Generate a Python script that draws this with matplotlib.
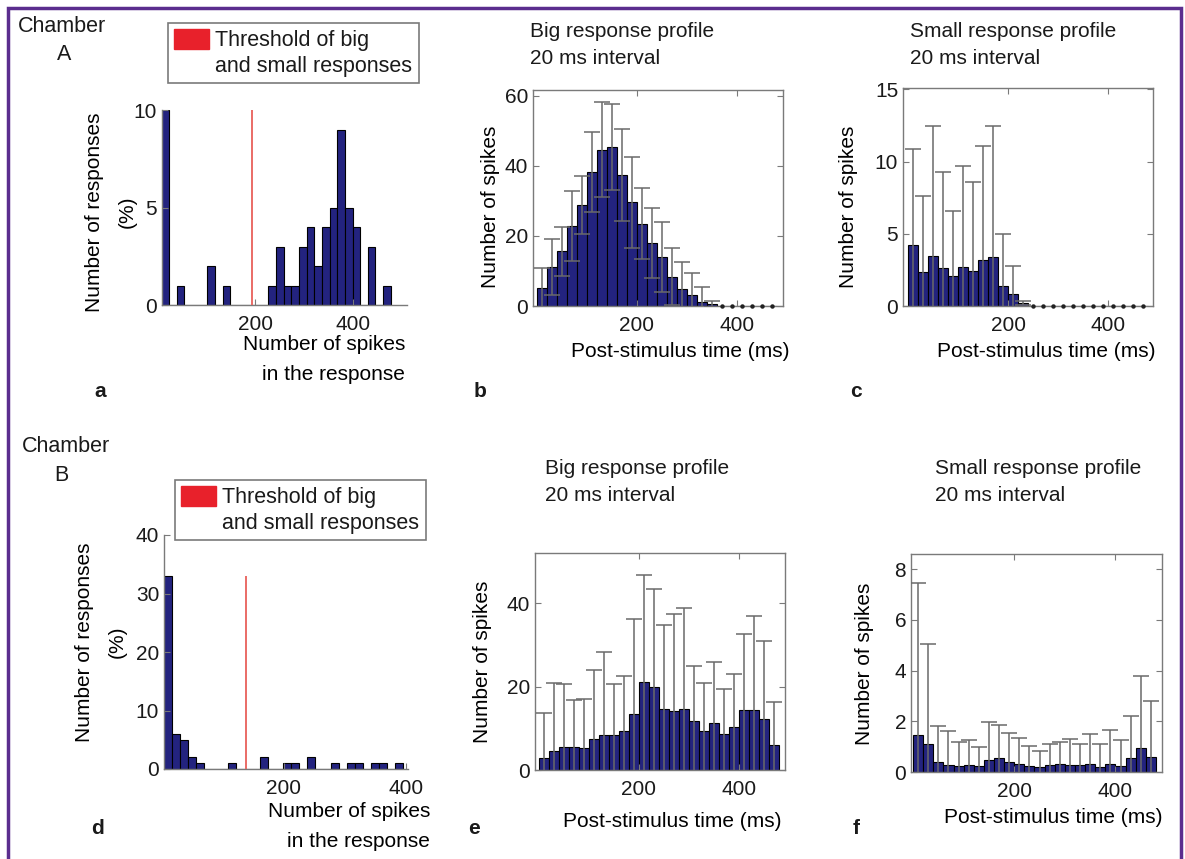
import numpy as np
import matplotlib.pyplot as plt
from matplotlib.patches import Patch, Rectangle

plt.rcParams['font.family'] = ['Liberation Sans', 'DejaVu Sans']
plt.rcParams['font.size'] = 15
plt.rcParams['text.color'] = '#1a1a1a'

W, H = 1185, 859

# ---- data ----
# Chamber A: distribution of spike counts per response (%)
a_bins = [16.6, 32.2, 47.8, 63.4, 79.0, 94.6, 110.2, 125.8, 141.4, 157.0,
          172.6, 188.2, 203.8, 219.4, 235.0, 250.6, 266.2, 281.8, 297.4, 313.0,
          328.6, 344.2, 359.8, 375.4, 391.0, 406.6, 422.2, 437.8, 453.4, 469.0]
a_counts = [10, 0, 1, 0, 0, 0, 2, 0, 1, 0,
            0, 0, 0, 0, 1, 3, 1, 1, 3, 4,
            2, 4, 5, 9, 5, 4, 0, 3, 0, 1]
a_threshold = 194

# Chamber B
d_bins = [10.3, 23.3, 36.4, 49.4, 62.5, 75.5, 88.5, 101.6, 114.6, 127.7,
          140.7, 153.7, 166.8, 179.8, 192.9, 205.9, 218.9, 232.0, 245.0, 258.1,
          271.1, 284.1, 297.2, 310.2, 323.3, 336.3, 349.3, 362.4, 375.4, 388.5]
d_counts = [33, 6, 5, 2, 1, 0, 0, 0, 1, 0,
            0, 0, 2, 0, 0, 1, 1, 0, 2, 0,
            0, 1, 0, 1, 1, 0, 1, 1, 0, 1]
d_threshold = 137

# post-stimulus time bins (20 ms)
time_ms = [10, 30, 50, 70, 90, 110, 130, 150, 170, 190, 210, 230,
           250, 270, 290, 310, 330, 350, 370, 390, 410, 430, 450, 470]

b_mean = [5.0, 11.0, 15.7, 22.9, 28.9, 38.2, 44.6, 45.3, 37.4, 29.6, 23.5, 17.9,
          14.1, 8.4, 4.9, 3.0, 1.2, 0.6, 0, 0, 0, 0, 0, 0]
b_sd = [5.8, 8.0, 7.0, 10.0, 8.3, 11.4, 13.6, 12.3, 13.2, 13.1, 10.2, 10.0,
        10.0, 8.1, 7.6, 6.5, 4.2, 0.9, 0, 0, 0, 0, 0, 0]

c_mean = [4.24, 2.38, 3.47, 2.6, 2.1, 2.7, 2.45, 3.2, 3.4, 1.4, 0.85, 0.2,
          0, 0, 0, 0, 0, 0, 0, 0, 0, 0, 0, 0]
c_sd = [6.66, 5.22, 9.03, 6.7, 4.5, 7.0, 6.15, 7.9, 9.1, 3.6, 1.95, 0.15,
        0, 0, 0, 0, 0, 0, 0, 0, 0, 0, 0, 0]

e_mean = [2.8, 4.6, 5.4, 5.4, 5.2, 7.4, 8.4, 8.4, 9.4, 13.4, 21.0, 19.8,
          14.6, 14.2, 14.7, 11.8, 9.4, 11.2, 8.6, 10.2, 14.4, 14.4, 12.2, 6.0]
e_sd = [10.8, 16.2, 15.2, 11.4, 11.8, 16.6, 19.8, 12.2, 13.2, 22.8, 25.8, 23.6,
        20.2, 23.2, 24.1, 13.2, 11.4, 14.6, 10.8, 12.8, 18.2, 22.6, 18.6, 10.4]

f_mean = [1.46, 1.12, 0.41, 0.29, 0.22, 0.29, 0.25, 0.46, 0.57, 0.40, 0.32, 0.25,
          0.20, 0.28, 0.32, 0.28, 0.28, 0.32, 0.20, 0.32, 0.25, 0.54, 0.95, 0.60]
f_sd = [6.01, 3.94, 1.39, 1.31, 0.98, 0.96, 0.72, 1.52, 1.29, 1.13, 1.02, 0.76,
        0.62, 0.82, 0.85, 1.02, 0.82, 1.18, 0.90, 1.35, 1.03, 1.68, 2.85, 2.20]

BAR = '#23237f'
ERR = '#6a6a6a'
SPINE = '#7a7a7a'
THRESH = '#e8605a'
PATCH_RED = '#e8212b'


def px_box(left, top, right, bottom):
    return [left / W, 1 - bottom / H, (right - left) / W, (bottom - top) / H]


def style_ticks(ax, box=True):
    ax.tick_params(axis='both', direction='in', length=4, width=0.8, color=SPINE,
                   labelsize=15, labelcolor='#1a1a1a', top=box, right=box)
    ax.tick_params(axis='x', pad=7)
    ax.tick_params(axis='y', pad=3.5)
    for s in ax.spines.values():
        s.set_color(SPINE)
        s.set_linewidth(1.0)
    if not box:
        ax.spines['top'].set_visible(False)
        ax.spines['right'].set_visible(False)


def hist_panel(ax, bins, counts, width, threshold, xlim, ylim, yticks):
    ax.bar(bins, counts, width=width, color=BAR, edgecolor='black', linewidth=0.8)
    ax.vlines(threshold, 0, max(counts), color=THRESH, lw=1.3, zorder=3)
    ax.set_xlim(xlim)
    ax.set_ylim(ylim)
    ax.set_xticks([200, 400])
    ax.set_yticks(yticks)
    style_ticks(ax, box=False)


def profile_panel(ax, t, mean, sd, xlim, ylim, yticks):
    t = np.asarray(t)
    mean = np.asarray(mean)
    sd = np.asarray(sd)
    ax.bar(t, mean, width=20, color=BAR, edgecolor='black', linewidth=0.8)
    nz = mean > 0
    ax.errorbar(t[nz], mean[nz], yerr=sd[nz], fmt='none', ecolor=ERR,
                elinewidth=1.1, capsize=6, capthick=1.1, zorder=3)
    ax.plot(t[~nz], mean[~nz], 'o', ms=2.2, color='#222222', zorder=3, clip_on=False)
    ax.set_xlim(xlim)
    ax.set_ylim(ylim)
    ax.set_xticks([200, 400])
    ax.set_yticks(yticks)
    style_ticks(ax, box=True)


fig = plt.figure(figsize=(W / 100, H / 100), dpi=100)

ax_a = fig.add_axes(px_box(162, 110, 407, 305))
ax_b = fig.add_axes(px_box(533, 90, 783, 306))
ax_c = fig.add_axes(px_box(903, 88, 1153, 306))
ax_d = fig.add_axes(px_box(164, 535, 408, 769))
ax_e = fig.add_axes(px_box(535, 553, 785, 770))
ax_f = fig.add_axes(px_box(911, 554, 1162, 772))

hist_panel(ax_a, a_bins, a_counts, 15.6, a_threshold, (10, 510), (0, 10), [0, 5, 10])
hist_panel(ax_d, d_bins, d_counts, 13.04, d_threshold, (3, 404), (0, 40), [0, 10, 20, 30, 40])

profile_panel(ax_b, time_ms, b_mean, b_sd, (-8, 492), (0, 61.7), [0, 20, 40, 60])
profile_panel(ax_c, time_ms, c_mean, c_sd, (-10, 490), (0, 15.1), [0, 5, 10, 15])
profile_panel(ax_e, time_ms, e_mean, e_sd, (-8, 492), (0, 52), [0, 20, 40])
profile_panel(ax_f, time_ms, f_mean, f_sd, (-4, 492), (0, 8.6), [0, 2, 4, 6, 8])

# axis labels
ylab = dict(fontsize=15, linespacing=1.9, multialignment='center')
ax_a.set_ylabel('Number of responses\n(%)', **ylab)
ax_a.yaxis.set_label_coords(-0.208, 0.477)
ax_d.set_ylabel('Number of responses\n(%)', **ylab)
ax_d.yaxis.set_label_coords(-0.26, 0.543)
for ax, xy in [(ax_b, (-0.172, 0.458)), (ax_c, (-0.22, 0.454)),
               (ax_e, (-0.212, 0.498)), (ax_f, (-0.187, 0.495))]:
    ax.set_ylabel('Number of spikes', fontsize=15)
    ax.yaxis.set_label_coords(*xy)
for ax in [ax_a, ax_b, ax_c, ax_d, ax_e, ax_f]:
    ax.yaxis.label.set_va('center')

xlab2 = dict(fontsize=15, linespacing=1.75, ha='right', multialignment='right')
ax_a.set_xlabel('Number of spikes\nin the response', **xlab2)
ax_a.xaxis.set_label_coords(0.992, -0.154)
ax_d.set_xlabel('Number of spikes\nin the response', **xlab2)
ax_d.xaxis.set_label_coords(1.09, -0.141)
for ax, xy in [(ax_b, (0.59, -0.167)), (ax_c, (0.572, -0.165)),
               (ax_e, (0.548, -0.194)), (ax_f, (0.566, -0.165))]:
    ax.set_xlabel('Post-stimulus time (ms)', fontsize=15)
    ax.xaxis.set_label_coords(*xy)

# panel titles (y is the baseline of the second line)
title_kw = dict(fontsize=15, linespacing=1.55, va='baseline', ha='left')
fig.text(530 / W, 1 - 64 / H, 'Big response profile\n20 ms interval', **title_kw)
fig.text(910 / W, 1 - 64 / H, 'Small response profile\n20 ms interval', **title_kw)
fig.text(545 / W, 1 - 501 / H, 'Big response profile\n20 ms interval', **title_kw)
fig.text(935 / W, 1 - 501 / H, 'Small response profile\n20 ms interval', **title_kw)

# chamber labels
fig.text(18 / W, 1 - 32 / H, 'Chamber', fontsize=15.5, va='baseline')
fig.text(64 / W, 1 - 60 / H, 'A', fontsize=15.5, va='baseline', ha='center')
fig.text(22 / W, 1 - 452 / H, 'Chamber', fontsize=15.5, va='baseline')
fig.text(61 / W, 1 - 481 / H, 'B', fontsize=15.5, va='baseline', ha='center')

# panel letters
for letter, x, y in [('a', 100, 392), ('b', 480, 392), ('c', 856, 392),
                     ('d', 97, 828), ('e', 474, 828), ('f', 856, 828)]:
    fig.text(x / W, 1 - y / H, letter, fontsize=15, fontweight='bold',
             ha='center', va='center')

# threshold legends
for ax, (lx, ly) in [(ax_a, (168, 23)), (ax_d, (175, 480))]:
    handles = [Patch(facecolor=PATCH_RED, edgecolor=PATCH_RED),
               Patch(facecolor='none', edgecolor='none')]
    leg = ax.legend(handles, ['Threshold of big', 'and small responses'],
                    loc='upper left', bbox_to_anchor=(lx / W, 1 - ly / H),
                    bbox_transform=fig.transFigure, fontsize=15.5,
                    handlelength=1.6, handleheight=1.0, handletextpad=0.3,
                    borderpad=0.3, labelspacing=0.15, borderaxespad=0,
                    frameon=True, fancybox=False, edgecolor='#7a7a7a',
                    framealpha=1)
    leg.get_frame().set_linewidth(1.2)

# purple frame around the figure
fig.add_artist(Rectangle((8 / W, -0.05), (1181 - 8) / W, 1.05 - 8 / H,
                         transform=fig.transFigure, fill=False,
                         edgecolor='#5b2d8e', linewidth=2.5, clip_on=False))

fig.savefig('out.png', dpi=100)
